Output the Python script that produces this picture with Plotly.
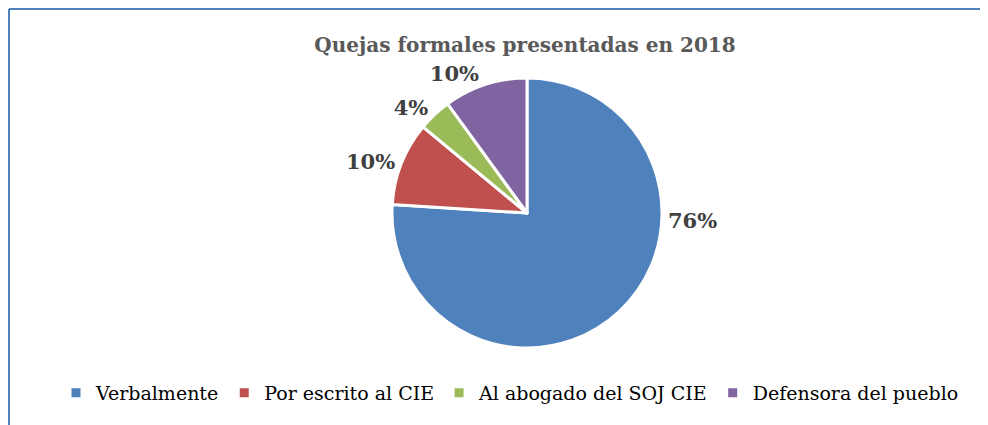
import plotly.graph_objects as go

# Data
categories = ["Verbalmente", "Por escrito al CIE", "Al abogado del SOJ CIE", "Defensora del pueblo"]
values = [76, 10, 4, 10]
colors = ["#4F81BD", "#C0504D", "#9BBB59", "#8064A2"]

# page body has an 8px margin, so the figure is made a bit smaller
W, H = 980, 417
mt, mb = 70, 77
ph = H - mt - mb

# pie centre (px, figure coords)
cx = 519

label_font = dict(family="DejaVu Serif", size=21, color="#404040", weight="bold")

fig = go.Figure(
    go.Pie(
        labels=categories,
        values=values,
        sort=False,
        direction="clockwise",
        rotation=0,
        marker=dict(colors=colors, line=dict(color="white", width=3)),
        textinfo="percent",
        texttemplate=["", "%{percent:.0%}", "%{percent:.0%}", "%{percent:.0%}"],
        textposition="outside",
        textfont=label_font,
        domain=dict(x=[(cx - 200) / W, (cx + 200) / W], y=[0, 1]),
        hoverinfo="label+percent",
    )
)

# big slice label sits at 3 o'clock like the original
total = sum(values)
fig.add_annotation(
    text="%d%%" % round(100 * values[0] / total),
    x=(cx + 165) / W, y=0.5 - 7 / ph,
    xref="paper", yref="paper", showarrow=False,
    xanchor="center", yanchor="middle",
    font=label_font,
)

# frame lines (top and left)
ytop = 1 + (mt - 1) / ph
fig.add_shape(type="line", xref="paper", yref="paper",
              x0=1 / W, x1=1.01, y0=ytop, y1=ytop,
              line=dict(color="#4F81BD", width=2))
fig.add_shape(type="line", xref="paper", yref="paper",
              x0=1 / W, x1=1 / W, y0=ytop, y1=-(mb + 5) / ph,
              line=dict(color="#4F81BD", width=2))

fig.update_layout(
    width=W, height=H,
    margin=dict(l=0, r=0, t=mt, b=mb),
    paper_bgcolor="white",
    plot_bgcolor="white",
    title=dict(text="<b>Quejas formales presentadas en 2018</b>",
               x=517 / W, xanchor="center", y=1 - 37 / H, yanchor="middle",
               font=dict(family="DejaVu Serif", size=20, color="#595959")),
    showlegend=True,
    legend=dict(orientation="h", x=502 / W, xanchor="center",
                y=-(385 - (H - mb)) / ph, yanchor="middle",
                font=dict(family="DejaVu Serif", size=19, color="#000000"),
                itemwidth=30, traceorder="normal"),
)

fig.write_html("out.html")
